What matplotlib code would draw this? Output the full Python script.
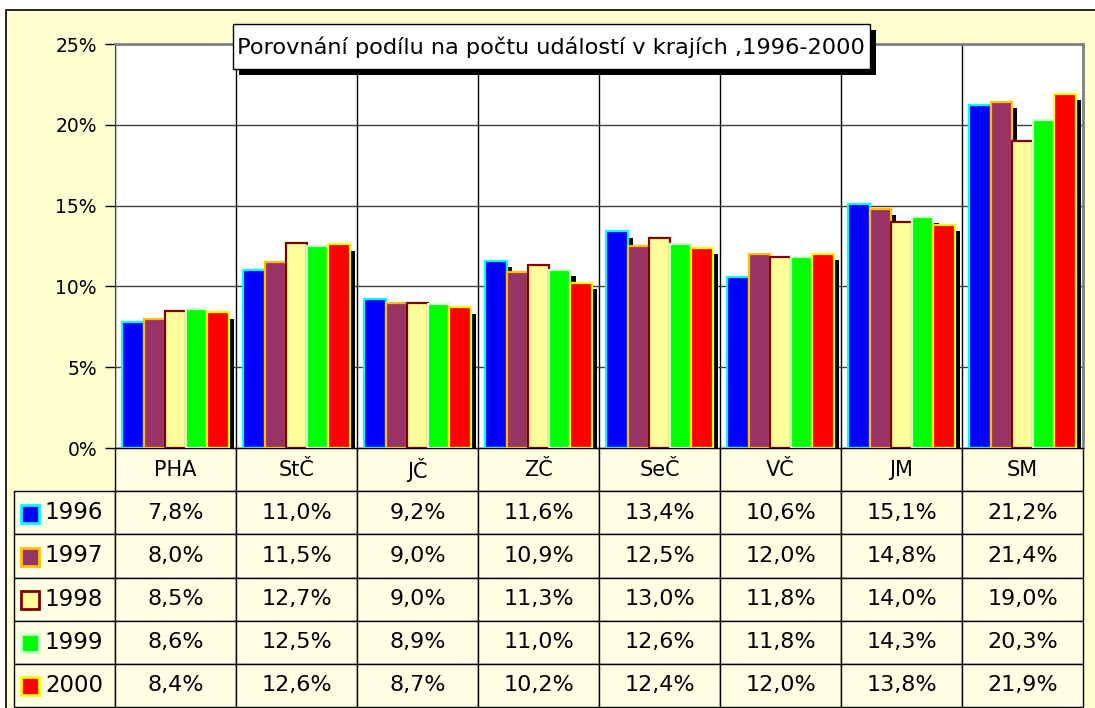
import numpy as np
import matplotlib
matplotlib.use('Agg')
import matplotlib.pyplot as plt
import matplotlib.patheffects as pe
from matplotlib.patches import Rectangle

# %% data
regions = ['PHA', 'StČ', 'JČ', 'ZČ', 'SeČ', 'VČ', 'JM', 'SM']
years = ['1996', '1997', '1998', '1999', '2000']
v1996 = [7.8, 11.0, 9.2, 11.6, 13.4, 10.6, 15.1, 21.2]
v1997 = [8.0, 11.5, 9.0, 10.9, 12.5, 12.0, 14.8, 21.4]
v1998 = [8.5, 12.7, 9.0, 11.3, 13.0, 11.8, 14.0, 19.0]
v1999 = [8.6, 12.5, 8.9, 11.0, 12.6, 11.8, 14.3, 20.3]
v2000 = [8.4, 12.6, 8.7, 10.2, 12.4, 12.0, 13.8, 21.9]
yticks = [0, 5, 10, 15, 20, 25]
title = 'Porovnání podílu na počtu událostí v krajích ,1996-2000'

series = [v1996, v1997, v1998, v1999, v2000]
faces = ['#0000FF', '#993366', '#FFFF99', '#00FF00', '#FF0000']
edges = ['#00FFFF', '#FFC000', '#800000', '#CCFFCC', '#FFFF00']

# %% figure layout (pixels)
W, H = 1095, 708
fig = plt.figure(figsize=(W / 100, H / 100), dpi=100)
fig.patch.set_facecolor('white')
fig.patches.append(Rectangle((6 / W, 1 - 712 / H), 1100 / W, 702 / H,
                             transform=fig.transFigure, fc='#FFFFD2', ec='black', lw=1.2, zorder=-5))

ax = fig.add_axes([115 / W, 1 - 448 / H, 968 / W, 404 / H])
ax.set_facecolor('white')

x = np.arange(len(regions)) + 0.5
bw = 0.176
shadow = [pe.SimplePatchShadow(offset=(4, -4.5), shadow_rgbFace='black', alpha=1), pe.Normal()]
for j, vals in enumerate(series):
    ax.bar(x + (j - 2) * bw, vals, bw, color=faces[j], edgecolor=edges[j], linewidth=1.6,
           path_effects=shadow, zorder=3)

ax.set_xlim(0, len(regions))
ax.set_ylim(0, 25)
ax.set_yticks(yticks)
ax.set_yticklabels([f'{t}%' for t in yticks], fontsize=13.5)
ax.set_xticks(np.arange(len(regions) + 1))
ax.set_xticklabels([])
ax.tick_params(axis='x', length=0)
ax.tick_params(axis='y', length=7, width=1, pad=6)
ax.set_axisbelow(True)
ax.yaxis.grid(True, color='#404040', lw=1)
ax.xaxis.grid(True, color='black', lw=1)
for s in ['top', 'right']:
    ax.spines[s].set_color('#808080')
    ax.spines[s].set_linewidth(2)
ax.spines['left'].set_color('#404040')
ax.spines['bottom'].set_color('black')

# %% data table
fmt = lambda v: f'{v:.1f}%'.replace('.', ',')
cell_text = [[y] + [fmt(v) for v in vals] for y, vals in zip(years, series)]
tbl = ax.table(cellText=cell_text, colLabels=[''] + regions,
               colWidths=[101] + [121] * len(regions),
               bbox=[(14 - 115) / 968, -(707 - 448) / 404, (1083 - 14) / 968, (707 - 448) / 404],
               cellLoc='center')
tbl.auto_set_font_size(False)
for (r, c), cell in tbl.get_celld().items():
    cell.set_facecolor('#FFFFE4')
    cell.set_linewidth(1)
    cell.get_text().set_fontsize(16)
    if c == 0:
        cell.get_text().set_ha('right')
        cell._loc = 'right'
        cell.PAD = 0.12
        cell.get_text().set_fontsize(16.5)
    if r == 0:
        cell.get_text().set_fontsize(15)
        cell.get_text().set_va('center')
        if c == 0:
            cell.visible_edges = ''
            cell.set_facecolor('none')

# legend squares
for j in range(len(years)):
    yc = 492 + 43.2 * j + 21.6
    ax.add_patch(Rectangle(((21 - 115) / 968, (448 - yc - 9) / 404), 18 / 968, 18 / 404,
                           transform=ax.transAxes, fc=faces[j], ec=edges[j], lw=2, clip_on=False))

# %% title box
tb = Rectangle((233 / W, 1 - 69 / H), 637 / W, 45 / H, transform=fig.transFigure,
               fc='white', ec='black', lw=1, zorder=10,
               path_effects=[pe.SimplePatchShadow(offset=(4, -4), shadow_rgbFace='black', alpha=1), pe.Normal()])
fig.patches.append(tb)
fig.text(551 / W, 1 - 47 / H, title, ha='center', va='center', fontsize=16.2, zorder=11)

plt.savefig('out.png', dpi=100)
